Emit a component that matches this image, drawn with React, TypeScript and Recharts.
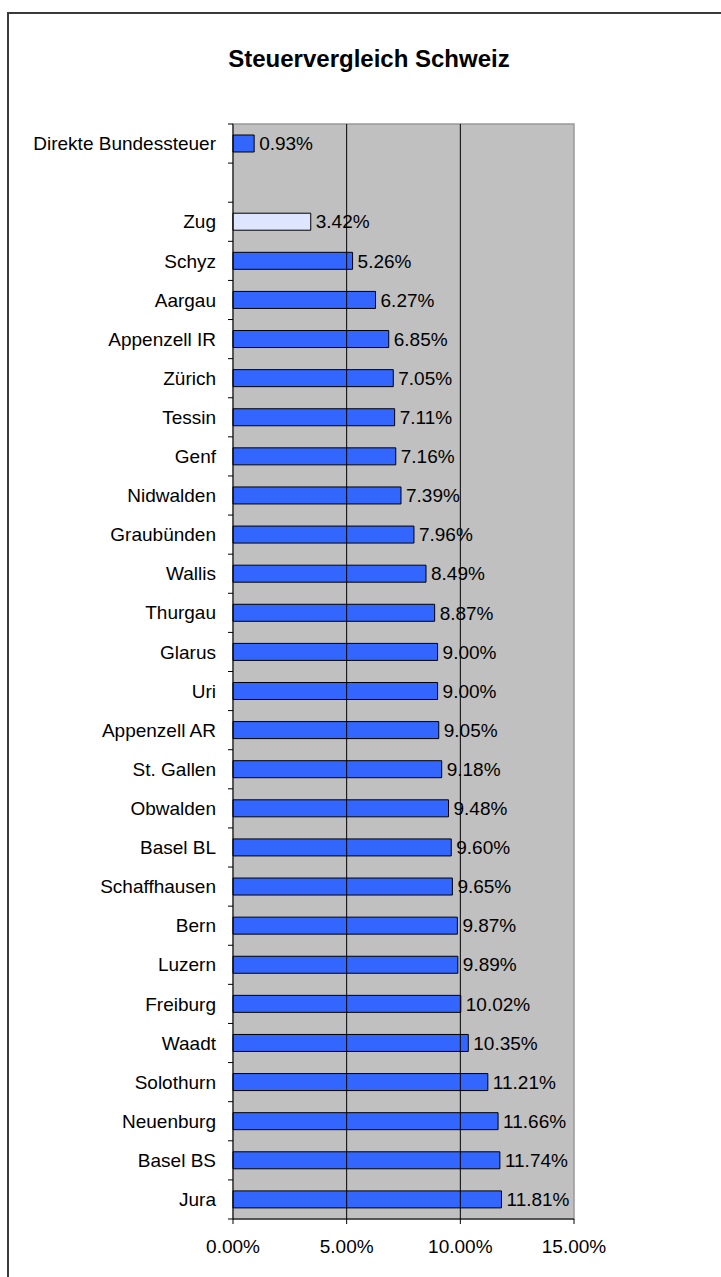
import React from 'react';
import {
  BarChart,
  Bar,
  XAxis,
  YAxis,
  CartesianGrid,
  ReferenceLine,
  ReferenceArea,
  LabelList,
  Cell,
} from 'recharts';

const TITLE = 'Steuervergleich Schweiz';

const categories: string[] = [
  'Direkte Bundessteuer',
  '',
  'Zug',
  'Schyz',
  'Aargau',
  'Appenzell IR',
  'Zürich',
  'Tessin',
  'Genf',
  'Nidwalden',
  'Graubünden',
  'Wallis',
  'Thurgau',
  'Glarus',
  'Uri',
  'Appenzell AR',
  'St. Gallen',
  'Obwalden',
  'Basel BL',
  'Schaffhausen',
  'Bern',
  'Luzern',
  'Freiburg',
  'Waadt',
  'Solothurn',
  'Neuenburg',
  'Basel BS',
  'Jura',
];

const values: (number | null)[] = [
  0.93, null, 3.42, 5.26, 6.27, 6.85, 7.05, 7.11, 7.16, 7.39, 7.96, 8.49, 8.87,
  9.0, 9.0, 9.05, 9.18, 9.48, 9.6, 9.65, 9.87, 9.89, 10.02, 10.35, 11.21, 11.66,
  11.74, 11.81,
];

const highlighted: string[] = ['Zug'];

const xTicks: number[] = [0, 5, 10, 15];
const gridValues: number[] = [5, 10];

const data = categories.map((name, i) => ({ name, value: values[i] }));

const W = 721;
const H = 1277;
const Y_AXIS_W = 233;
const X_AXIS_H = 58;
const M_TOP = 124;
const M_RIGHT = 147;
const PLOT_TOP = M_TOP;
const PLOT_BOTTOM = H - X_AXIS_H;
const BAND = (PLOT_BOTTOM - PLOT_TOP) / categories.length;
const FONT = '"Liberation Sans", Arial, sans-serif';

const YTick = (props: any) => {
  const { y, payload } = props;
  const idx = payload?.index ?? 0;
  const ax = Y_AXIS_W;
  return (
    <g>
      <line x1={ax - 5} x2={ax} y1={y - BAND / 2} y2={y - BAND / 2} stroke="#000" strokeWidth={1} />
      {idx === categories.length - 1 && (
        <line x1={ax - 5} x2={ax} y1={y + BAND / 2} y2={y + BAND / 2} stroke="#000" strokeWidth={1} />
      )}
      <text
        x={ax - 17}
        y={y}
        dy="0.35em"
        textAnchor="end"
        fill="#000"
        fontSize={19}
        fontFamily={FONT}
      >
        {payload?.value}
      </text>
    </g>
  );
};

export default function App() {
  return (
    <div
      style={{
        position: 'absolute',
        left: 0,
        top: 0,
        width: W,
        height: H,
        overflow: 'hidden',
        background: '#fff',
      }}
    >
      <div
        style={{
          position: 'absolute',
          left: 7,
          top: 12,
          width: W - 7,
          height: H - 12,
          borderLeft: '2px solid #3a3a3a',
          borderTop: '2px solid #3a3a3a',
          boxSizing: 'border-box',
        }}
      />
      <div
        style={{
          position: 'absolute',
          left: 169,
          top: 45,
          width: 400,
          textAlign: 'center',
          fontFamily: FONT,
          fontWeight: 'bold',
          fontSize: 24,
          lineHeight: '28px',
          color: '#000',
          whiteSpace: 'nowrap',
        }}
      >
        {TITLE}
      </div>
      <div style={{ position: 'absolute', left: 0, top: 0 }}>
        <BarChart
          width={W}
          height={H}
          data={data}
          layout="vertical"
          margin={{ top: M_TOP, right: M_RIGHT, bottom: 0, left: 0 }}
          barCategoryGap={0}
        >
          <CartesianGrid horizontal={false} vertical={false} fill="#C0C0C0" fillOpacity={1} />
          <ReferenceArea x1={0} x2={15} fill="none" stroke="#999999" strokeWidth={1.5} />
          {gridValues.map((g) => (
            <ReferenceLine key={g} x={g} stroke="#000" strokeWidth={1} />
          ))}
          <XAxis
            type="number"
            domain={[0, 15]}
            ticks={xTicks}
            interval={0}
            height={X_AXIS_H}
            axisLine={{ stroke: '#000', strokeWidth: 1 }}
            tickLine={{ stroke: '#000', strokeWidth: 1 }}
            tickSize={5}
            tickMargin={16}
            tickFormatter={(v: number) => `${v.toFixed(2)}%`}
            tick={{ fill: '#000', fontSize: 19, fontFamily: FONT }}
          />
          <YAxis
            type="category"
            dataKey="name"
            width={Y_AXIS_W}
            interval={0}
            axisLine={{ stroke: '#000', strokeWidth: 1 }}
            tickLine={false}
            tick={<YTick />}
          />
          <Bar dataKey="value" barSize={17} fill="#3366FF" stroke="#000" strokeWidth={1} isAnimationActive={false}>
            {data.map((d, i) => (
              <Cell
                key={i}
                fill={d.value == null ? 'none' : highlighted.includes(d.name) ? '#DDE5FF' : '#3366FF'}
                stroke={d.value == null ? 'none' : '#000'}
              />
            ))}
            <LabelList
              dataKey="value"
              position="right"
              offset={5}
              formatter={(v: any) => (v == null ? '' : `${Number(v).toFixed(2)}%`)}
              fill="#000"
              fontSize={19}
              fontFamily={FONT}
            />
          </Bar>
        </BarChart>
      </div>
    </div>
  );
}
